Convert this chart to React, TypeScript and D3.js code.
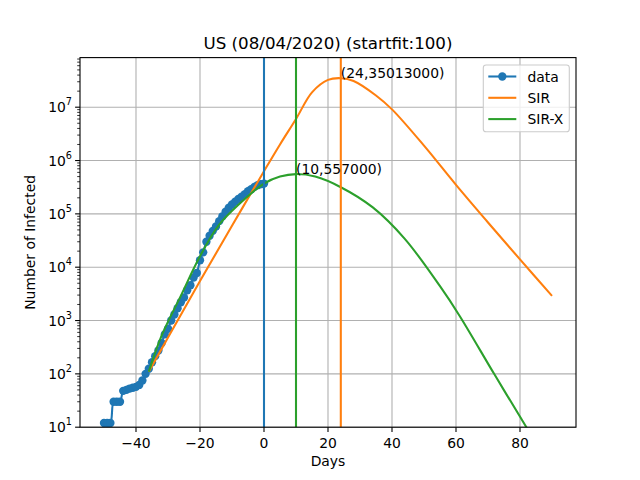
import * as d3 from 'd3'

// observed cases, day 0 = last fit day
const dataDays = [
  -50, -49, -48, -47, -46, -45, -44, -43, -42, -41, -40, -39, -38, -37, -36, -35, -34,
  -33, -32, -31, -30, -29, -28, -27, -26, -25, -24, -23, -22, -21, -20, -19, -18, -17,
  -16, -15, -14, -13, -12, -11, -10, -9, -8, -7, -6, -5, -4, -3, -2, -1, 0,
]
const dataCases = [
  12, 12, 12, 30, 30, 30, 48, 50, 53, 55, 57, 62, 75, 100, 125, 165, 215,
  275, 380, 550, 700, 1000, 1300, 1700, 2200, 2700, 3700, 4600, 6400, 7800, 13500, 19000, 30000, 39000,
  48000, 58000, 73000, 90000, 110000, 130000, 150000, 170000, 190000, 210000, 235000, 265000, 290000, 320000, 345000, 360000, 370000,
]

// SIR fit
const sirDays = [-36, -30, -20, -10, 0, 5, 10, 15, 20, 24, 28, 35, 40, 50, 60, 70, 80, 90]
const sirValues = [
  110, 480, 5500, 60000, 630000, 2000000, 6000000, 19000000, 32500000, 35013000,
  31000000, 16600000, 9100000, 1900000, 350000, 69000, 14000, 2900,
]

// SIR-X fit
const sirxDays = [-36, -32, -26, -20, -14, -5, 0, 5, 10, 16, 24, 34, 44, 55, 61, 72, 82, 85]
const sirxValues = [
  110, 520, 2900, 16000, 63000, 215000, 370000, 500000, 557000, 500000,
  316000, 132000, 34000, 4400, 1260, 98, 10, 5,
]

const peakSir = { day: 24, value: 35013000 }
const peakSirx = { day: 10, value: 557000 }

const xTicks = [-40, -20, 0, 20, 40, 60, 80]
const yExponents = [1, 2, 3, 4, 5, 6, 7]

const C_DATA = '#1f77b4'
const C_SIR = '#ff7f0e'
const C_SIRX = '#2ca02c'
const FONT = 'DejaVu Sans, sans-serif'

export default function App() {
  const left = 80
  const right = 576
  const top = 57.6
  const bottom = 427.2

  const x = d3.scaleLinear().domain([-57.5, 97.5]).range([left, right])
  const y = d3.scaleLog().domain([10, Math.pow(10, 7.93)]).range([bottom, top])

  const minorTicks = y.ticks().filter((v) => Math.abs(Math.log10(v) - Math.round(Math.log10(v))) > 1e-6)

  const pts = (days: number[], vals: number[]) => days.map((d, i) => [d, vals[i]] as [number, number])

  const straight = d3
    .line<[number, number]>()
    .x((p) => x(p[0]))
    .y((p) => y(p[1]))
  const smooth = straight.curve(d3.curveCatmullRom.alpha(0.5))
  const dataPts = pts(dataDays, dataCases)

  const lw = 2.08

  return (
    <svg width={640} height={480} style={{ position: 'fixed', left: 0, top: 0, background: '#fff' }} fontFamily={FONT}>
      <defs>
        <clipPath id="plot">
          <rect x={left} y={top} width={right - left} height={bottom - top} />
        </clipPath>
      </defs>
      <rect x={0} y={0} width={640} height={480} fill="#fff" />

      {/* grid */}
      <g stroke="#b0b0b0" strokeWidth={1.1}>
        {xTicks.map((t) => (
          <line key={'gx' + t} x1={x(t)} x2={x(t)} y1={top} y2={bottom} />
        ))}
        {yExponents.map((e) => (
          <line key={'gy' + e} x1={left} x2={right} y1={y(Math.pow(10, e))} y2={y(Math.pow(10, e))} />
        ))}
      </g>

      <g clipPath="url(#plot)" fill="none" strokeWidth={lw}>
        <path d={straight(dataPts) ?? ''} stroke={C_DATA} />
        {dataPts.map((p, i) => (
          <circle key={i} cx={x(p[0])} cy={y(p[1])} r={4.17} fill={C_DATA} stroke="none" />
        ))}
        <path d={smooth(pts(sirDays, sirValues)) ?? ''} stroke={C_SIR} />
        <path d={smooth(pts(sirxDays, sirxValues)) ?? ''} stroke={C_SIRX} />
        <line x1={x(0)} x2={x(0)} y1={top} y2={bottom} stroke={C_DATA} />
        <line x1={x(peakSirx.day)} x2={x(peakSirx.day)} y1={top} y2={bottom} stroke={C_SIRX} />
        <line x1={x(peakSir.day)} x2={x(peakSir.day)} y1={top} y2={bottom} stroke={C_SIR} />
      </g>

      {/* annotations */}
      <g fontSize={13.9} fill="#000">
        <text x={x(peakSir.day)} y={y(peakSir.value)}>
          ({peakSir.day},{peakSir.value})
        </text>
        <text x={x(peakSirx.day)} y={y(peakSirx.value)}>
          ({peakSirx.day},{peakSirx.value})
        </text>
      </g>

      {/* frame */}
      <rect x={left} y={top} width={right - left} height={bottom - top} fill="none" stroke="#000" strokeWidth={1.1} />

      {/* x axis */}
      <g fontSize={13.9} textAnchor="middle">
        {xTicks.map((t) => (
          <g key={'xt' + t}>
            <line x1={x(t)} x2={x(t)} y1={bottom} y2={bottom + 4.9} stroke="#000" strokeWidth={1.1} />
            <text x={x(t)} y={bottom + 21}>
              {t < 0 ? '\u2212' + Math.abs(t) : String(t)}
            </text>
          </g>
        ))}
      </g>

      {/* y axis */}
      <g fontSize={13.9} textAnchor="end">
        {yExponents.map((e) => (
          <g key={'yt' + e}>
            <line x1={left - 4.9} x2={left} y1={y(Math.pow(10, e))} y2={y(Math.pow(10, e))} stroke="#000" strokeWidth={1.1} />
            <text x={left - 8} y={y(Math.pow(10, e)) + 5}>
              10
              <tspan dy={-7} fontSize={9.7}>
                {e}
              </tspan>
            </text>
          </g>
        ))}
        {minorTicks.map((v, i) => (
          <line key={'mt' + i} x1={left - 2.8} x2={left} y1={y(v)} y2={y(v)} stroke="#000" strokeWidth={0.8} />
        ))}
      </g>

      <text x={(left + right) / 2} y={49} fontSize={16.7} textAnchor="middle">
        US (08/04/2020) (startfit:100)
      </text>
      <text x={(left + right) / 2} y={466} fontSize={13.9} textAnchor="middle">
        Days
      </text>
      <text transform={`translate(35, ${(top + bottom) / 2}) rotate(-90)`} fontSize={13.9} textAnchor="middle">
        Number of Infected
      </text>

      {/* legend */}
      <g>
        <rect x={483.3} y={65} width={86} height={66.7} rx={2.8} fill="#fff" fillOpacity={0.8} stroke="#cccccc" strokeWidth={1.1} />
        {[
          { name: 'data', color: C_DATA, marker: true },
          { name: 'SIR', color: C_SIR, marker: false },
          { name: 'SIR-X', color: C_SIRX, marker: false },
        ].map((it, i) => {
          const cy = 76.5 + i * 21.3
          return (
            <g key={it.name}>
              <line x1={488.3} x2={516.3} y1={cy} y2={cy} stroke={it.color} strokeWidth={lw} />
              {it.marker && <circle cx={502.3} cy={cy} r={4.17} fill={it.color} />}
              <text x={527.5} y={cy + 5} fontSize={13.9}>
                {it.name}
              </text>
            </g>
          )
        })}
      </g>
    </svg>
  )
}
